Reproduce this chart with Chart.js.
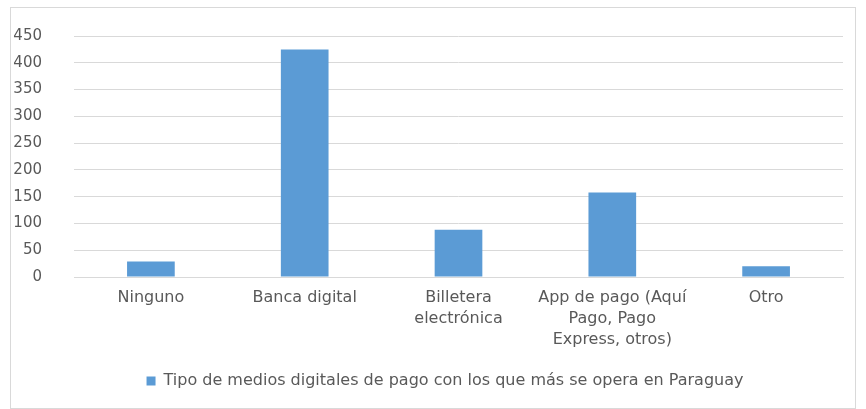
<!DOCTYPE html>
<html>
<head>
<meta charset="utf-8">
<script src="https://cdn.jsdelivr.net/npm/chart.js@4"></script>
<style>
  html, body { margin: 0; padding: 0; background: #fff; }
  .box {
    position: absolute; left: 10px; top: 7px;
    width: 844px; height: 400px;
    border: 1px solid #d9d9d9;
  }
</style>
</head>
<body>
<div class="box"><canvas id="medios" width="844" height="400"></canvas></div>
<script>
// ── DATOS ──
const categorias = [
    'Ninguno',
    'Banca digital',
    ['Billetera', 'electrónica'],
    ['App de pago (Aquí', 'Pago, Pago', 'Express, otros)'],
    'Otro'
];
const valores = [29, 425, 88, 158, 20];
const serieNombre = 'Tipo de medios digitales de pago con los que más se opera en Paraguay';
const ejeY = { min: 0, max: 450, paso: 50 };

const gris = '#595959';
const lineaGris = '#d9d9d9';
const azul = '#5b9bd5';

Chart.defaults.font.family = '"DejaVu Sans", Verdana, sans-serif';
Chart.defaults.font.size = 15;
Chart.defaults.color = gris;

// la leyenda del original está algo corrida a la derecha
const moverLeyenda = {
    id: 'moverLeyenda',
    afterLayout(chart) {
        chart.legend.left += 18;
        chart.legend.right += 18;
    }
};

const ctx = document.getElementById('medios').getContext('2d');
new Chart(ctx, {
    type: 'bar',
    data: {
        labels: categorias,
        datasets: [{
            label: serieNombre,
            data: valores,
            backgroundColor: azul,
            borderWidth: 0,
            barPercentage: 0.31,
            categoryPercentage: 1,
        }]
    },
    options: {
        responsive: false,
        animation: false,
        layout: { padding: { top: 28, right: 12, bottom: 9, left: 0 } },
        plugins: {
            tooltip: { enabled: false },
            legend: {
                position: 'bottom',
                labels: { boxWidth: 9, boxHeight: 9, padding: 10, color: gris, font: { size: 16 } }
            }
        },
        scales: {
            x: {
                grid: { display: false, drawTicks: false },
                border: { display: true, color: lineaGris, width: 1 },
                ticks: { padding: 10, maxRotation: 0, autoSkip: false, font: { size: 16, lineHeight: 1.32 } },
                afterFit: s => { s.height = 86; }
            },
            y: {
                min: ejeY.min, max: ejeY.max,
                grid: { color: lineaGris, lineWidth: 1, drawTicks: false },
                border: { display: false },
                ticks: { stepSize: ejeY.paso, padding: 32, font: { size: 15 } },
                // el padding de ticks también se suma arriba/abajo; se quita aquí
                afterFit: s => { s.width = 63; s.paddingTop = 9; s.paddingBottom = 9; }
            }
        }
    },
    plugins: [moverLeyenda]
});
</script>
</body>
</html>
